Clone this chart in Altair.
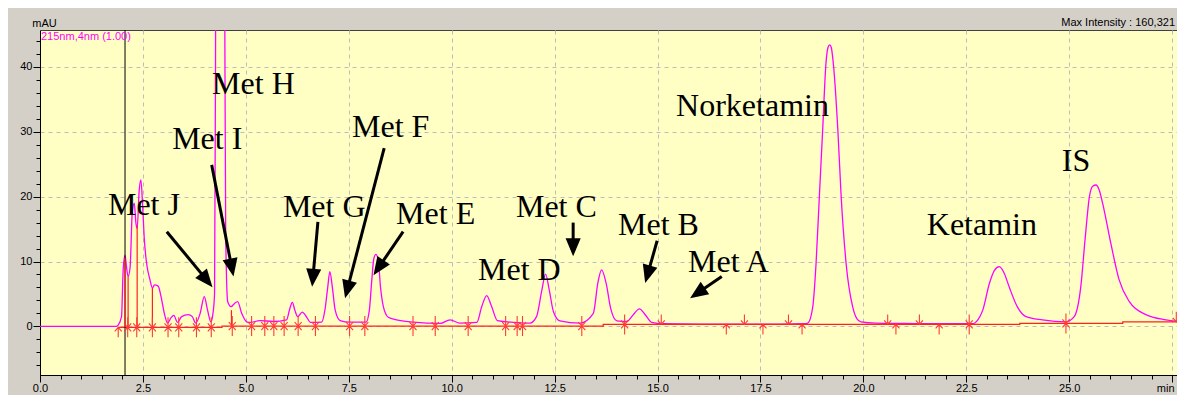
import math
import altair as alt
import numpy as np
import pandas as pd

# ---------------- data ----------------
# chromatogram signal, split by region (time in min, intensity in mAU)
t_a = [0.00, 1.85, 1.90, 1.98, 2.02, 2.065, 2.10, 2.14, 2.19, 2.24,
       2.29, 2.33, 2.36, 2.41, 2.45, 2.49, 2.53, 2.59, 2.67, 2.73,
       2.78, 2.87, 2.94, 3.02, 3.10, 3.18, 3.25, 3.34, 3.44, 3.60,
       3.70, 3.78, 3.89, 3.99, 4.07, 4.15, 4.19]
v_a = [0.0, 0.0, 0.2, 1.5, 8.7, 11.0, 9.2, 7.7, 9.2, 17.5,
       19.0, 15.9, 15.1, 21.0, 22.6, 19.0, 13.8, 9.7, 7.2, 5.9,
       6.4, 6.2, 4.6, 2.0, 0.5, 1.3, 1.7, 0.6, 1.5, 1.8,
       1.5, 0.5, 2.0, 4.6, 2.5, 0.7, 1.5]

t_b = [4.24, 4.265, 4.30, 4.37, 4.44, 4.49, 4.51, 4.53, 4.56, 4.64,
       4.72, 4.80, 4.90, 5.02, 5.10]
v_b = [5.0, 45.0, 140.0, 160.0, 140.0, 45.0, 15.0, 7.7, 3.8, 3.05,
       3.5, 3.8, 2.0, 0.7, 0.6]

t_c = [5.34, 5.67, 5.99, 6.07, 6.13, 6.19, 6.26, 6.37, 6.48, 6.57,
       6.84, 6.92, 6.99, 7.04, 7.10, 7.17, 7.29, 7.53, 7.92, 8.00,
       8.06, 8.11, 8.16, 8.22, 8.27, 8.34, 8.46, 8.66]
v_c = [0.9, 0.75, 1.0, 2.8, 3.7, 2.5, 1.5, 2.2, 1.4, 0.6,
       0.65, 2.5, 6.1, 8.45, 6.1, 2.5, 0.9, 0.65, 0.65, 2.5,
       7.2, 10.5, 11.1, 10.0, 6.1, 3.05, 1.4, 1.0]

t_d = [9.07, 9.72, 9.96, 10.20, 10.61, 10.73, 10.85, 10.97, 11.11, 11.66,
       11.90, 12.06, 12.19, 12.28, 12.37, 12.47, 12.63, 13.12, 13.44, 13.55,
       13.64, 13.75, 13.86, 14.01, 14.25, 14.41, 14.56, 14.70, 14.86, 15.14,
       16.0, 17.0, 18.0]
v_d = [0.65, 0.45, 1.0, 0.5, 0.6, 3.05, 4.75, 3.05, 0.9, 0.55,
       0.5, 1.5, 5.6, 8.05, 5.6, 2.3, 0.85, 0.5, 2.0, 6.7,
       8.7, 6.7, 2.8, 0.85, 0.75, 1.8, 2.7, 1.8, 0.6, 0.4,
       0.35, 0.35, 0.35]

t_e = [18.55, 18.65, 18.77, 18.85, 18.93, 19.01, 19.09, 19.14, 19.18, 19.22,
       19.27, 19.38, 19.46, 19.58, 19.74, 19.84, 19.94, 20.3, 21.0, 22.0]
v_e = [0.4, 0.5, 3.0, 9.7, 20.0, 30.2, 40.5, 43.0, 43.4, 43.0,
       40.5, 30.2, 20.0, 9.7, 3.0, 1.2, 0.7, 0.5, 0.45, 0.4]

t_f = [22.65, 22.78, 22.90, 23.06, 23.18, 23.30, 23.42, 23.54, 23.74, 23.95,
       24.35, 24.92, 25.12, 25.28, 25.39, 25.49, 25.57, 25.65, 25.73, 25.81,
       26.01, 26.21, 26.46, 26.86, 27.35, 27.74]
v_f = [0.4, 1.0, 2.5, 6.6, 8.6, 9.2, 8.2, 6.1, 3.0, 1.5,
       1.0, 0.7, 1.5, 6.1, 13.8, 20.0, 21.6, 21.8, 21.0, 19.0,
       12.8, 7.2, 3.8, 1.8, 1.0, 0.7]

# integration baseline (red)
base_t = [1.90, 4.42, 4.42, 13.68, 13.68, 23.8, 23.8, 26.3, 26.3, 27.74]
base_v = [-0.15, -0.15, 0.05, 0.05, 0.3, 0.3, 0.45, 0.45, 0.7, 0.7]

# red drop lines at peak boundaries
drop_t = [2.065, 2.14, 2.36, 2.73, 4.65]
drop_v = [10.5, 7.7, 15.5, 5.9, 2.5]

# peak start / end markers
mark_both = [2.13, 2.35, 2.73, 3.11, 3.37, 3.80, 4.16, 4.67, 5.14, 5.46,
             5.68, 5.93, 6.27, 6.69, 7.52, 7.89, 9.06, 9.60, 10.40, 11.31,
             11.59, 11.72, 13.16, 14.20, 22.57, 24.92]
mark_start = [1.90, 16.67, 17.56, 18.51, 20.79, 21.84]
mark_end = [15.09, 17.11, 18.18, 20.59, 21.36, 27.60]

cursor_t = [2.065]

# annotations
ann_text = ["Met H", "Met I", "Met J", "Met G", "Met F", "Met E", "Met D",
            "Met C", "Met B", "Met A", "Norketamin", "Ketamin", "IS"]
ann_t = [4.18, 3.21, 1.65, 5.90, 7.58, 8.65, 10.64, 11.56, 14.04, 15.74,
         15.45, 21.54, 24.82]
ann_v = [35.9, 27.4, 17.1, 16.9, 29.2, 15.8, 7.2, 16.9, 14.1, 8.4,
         32.5, 14.1, 24.0]

arr_from_t = [3.08, 4.17, 6.75, 8.36, 8.82, 12.95, 14.99, 16.56]
arr_from_v = [14.6, 24.9, 16.1, 27.5, 14.6, 16.0, 13.2, 7.7]
arr_to_t = [4.19, 4.70, 6.61, 7.41, 8.10, 12.95, 14.70, 15.79]
arr_to_v = [6.05, 7.7, 6.1, 4.35, 7.9, 10.8, 6.7, 4.35]

x_major_vals = [i * 2.5 for i in range(12)]
x_minor_vals = [i * 0.5 for i in range(56)]
y_major_vals = [0, 10, 20, 30, 40]
y_minor_vals = list(range(-6, 45, 2))

# ---------------- layout ----------------
PX_PER_MIN = 41.17
W, H = 1137, 345
X_DOMAIN = [0.0, W / PX_PER_MIN]
Y_DOMAIN = [-7.5, 45.7]
PXX = W / (X_DOMAIN[1] - X_DOMAIN[0])
PXY = H / (Y_DOMAIN[1] - Y_DOMAIN[0])

xs = alt.Scale(domain=X_DOMAIN, nice=False, zero=False)
ys = alt.Scale(domain=Y_DOMAIN, nice=False, zero=False)

FONT = "Liberation Sans"

sig_t = t_a + t_b + t_c + t_d + t_e + t_f
sig_v = v_a + v_b + v_c + v_d + v_e + v_f
sig = pd.DataFrame({"t": sig_t, "v": sig_v, "i": range(len(sig_t))})
base = pd.DataFrame({"t": base_t, "v": base_v, "i": range(len(base_t))})

x_major = alt.Axis(values=x_major_vals, orient="bottom", title="", grid=True,
                   gridColor="#bcbcbc", gridDash=[4, 4], gridWidth=1,
                   tickSize=7, tickColor="black", domainColor="black",
                   labelExpr="datum.value > 27 ? 'min' : format(datum.value, '.1f')",
                   labelOffset={"condition": {"test": "datum.value > 27", "value": -7},
                                "value": 0},
                   labelFont=FONT, labelFontSize=11, labelColor="black",
                   labelPadding=0, labelFlush=False, labelOverlap=False)
y_major = alt.Axis(values=y_major_vals, orient="left", title="mAU",
                   titleAngle=0, titleX=4, titleY=-3.5, titleAlign="center",
                   titleBaseline="alphabetic", titleFont=FONT, titleFontSize=11,
                   titleFontWeight="normal", titleColor="black",
                   grid=True, gridColor="#bcbcbc", gridDash=[4, 4], gridWidth=1,
                   tickSize=7, tickColor="black", domainColor="black",
                   labelFont=FONT, labelFontSize=11, labelColor="black",
                   labelPadding=1, labelFlush=False, labelOverlap=False)
x_minor = alt.Axis(values=x_minor_vals, orient="bottom", title="", labels=False,
                   grid=False, domain=False, tickSize=4, tickColor="black")
y_minor = alt.Axis(values=y_minor_vals, orient="left", title="", labels=False,
                   grid=False, domain=False, tickSize=4, tickColor="black")

sig_line = alt.Chart(sig).mark_line(color="#ff00ff", strokeWidth=1.3, clip=True,
                                    interpolate="monotone").encode(
    x=alt.X("t:Q", scale=xs, axis=x_major),
    y=alt.Y("v:Q", scale=ys, axis=y_major),
    order=alt.Order("i:Q"),
)

base_line = alt.Chart(base).mark_line(color="#ff2020", strokeWidth=1.3, clip=True).encode(
    x=alt.X("t:Q", scale=xs, axis=x_minor),
    y=alt.Y("v:Q", scale=ys, axis=y_minor),
    order=alt.Order("i:Q"),
)

cursor = alt.Chart(pd.DataFrame({"t": cursor_t})).mark_rule(color="black", strokeWidth=1).encode(
    x=alt.X("t:Q", scale=xs, axis=None),
)

drops_df = pd.DataFrame({"t": drop_t, "v": drop_v,
                         "b": np.interp(drop_t, base_t, base_v)})
drops = alt.Chart(drops_df).mark_rule(color="#ff2020", strokeWidth=1.2).encode(
    x=alt.X("t:Q", scale=xs, axis=None),
    y=alt.Y("b:Q", scale=ys, axis=None),
    y2="v:Q",
)

UP = "M0,0L0,1M-0.35,0.4L0,0L0.35,0.4"
DOWN = "M0,0L0,-1M-0.35,-0.4L0,0L0.35,-0.4"
BOTH = "M0,-1L0,1M-0.35,0.4L0,0L0.35,0.4M-0.35,-0.4L0,0L0.35,-0.4"


def marker_layer(ts, shape):
    df = pd.DataFrame({"t": ts, "v": np.interp(ts, base_t, base_v)})
    return alt.Chart(df).mark_point(shape=shape, size=400, filled=False,
                                    stroke="#ff3a3a", strokeWidth=1.1, opacity=1,
                                    clip=True).encode(
        x=alt.X("t:Q", scale=xs, axis=None),
        y=alt.Y("v:Q", scale=ys, axis=None),
    )


m_both = marker_layer(mark_both, BOTH)
m_start = marker_layer(mark_start, UP)
m_end = marker_layer(mark_end, DOWN)

# arrows
HEAD = 18.0
rows = []
for ft, fv, tt, tv in zip(arr_from_t, arr_from_v, arr_to_t, arr_to_v):
    dx = (tt - ft) * PXX
    dy = -(tv - fv) * PXY
    ln = math.hypot(dx, dy)
    ux, uy = dx / ln, dy / ln
    ang = math.degrees(math.atan2(dx, -dy)) % 360
    end_t = tt - 10.0 * ux / PXX
    end_v = tv + 10.0 * uy / PXY
    rows.append({"ft": ft, "fv": fv, "et": end_t, "ev": end_v,
                 "tt": tt, "tv": tv, "ang": ang})
arr = pd.DataFrame(rows)

shafts = alt.Chart(arr).mark_rule(color="black", strokeWidth=3).encode(
    x=alt.X("ft:Q", scale=xs, axis=None),
    y=alt.Y("fv:Q", scale=ys, axis=None),
    x2="et:Q",
    y2="ev:Q",
)
HEAD_PATH = "M0,0L-0.42,1L0.42,1Z"
heads = alt.Chart(arr).mark_point(shape=HEAD_PATH, size=(2 * HEAD) ** 2, filled=True,
                                  color="black", opacity=1, strokeWidth=0).encode(
    x=alt.X("tt:Q", scale=xs, axis=None),
    y=alt.Y("tv:Q", scale=ys, axis=None),
    angle=alt.Angle("ang:Q", scale=None),
)

ann = pd.DataFrame({"s": ann_text, "t": ann_t, "v": ann_v})
texts = alt.Chart(ann).mark_text(font="Liberation Serif", fontSize=32, align="left",
                                 baseline="alphabetic", color="black").encode(
    x=alt.X("t:Q", scale=xs, axis=None),
    y=alt.Y("v:Q", scale=ys, axis=None),
    text="s:N",
)

info = alt.Chart(pd.DataFrame({"s": ["215nm,4nm (1.00)"]})).mark_text(
    font=FONT, fontSize=11, align="left", baseline="top", color="#ff00ff").encode(
    x=alt.value(1), y=alt.value(1), text="s:N")

maxint = alt.Chart(pd.DataFrame({"s": ["Max Intensity : 160,321"]})).mark_text(
    font=FONT, fontSize=11, align="right", baseline="alphabetic", color="black").encode(
    x=alt.value(W - 2), y=alt.value(-4), text="s:N")

chart = alt.layer(
    sig_line, base_line, cursor, drops, m_both, m_start, m_end,
    shafts, heads, texts, info, maxint,
).resolve_axis(x="independent", y="independent").properties(
    width=W, height=H, background="#d4d0c8",
    padding={"left": 32, "top": 22, "right": 0, "bottom": 20},
    autosize=alt.AutoSizeParams(type="none"),
).configure_view(fill="#ffffc4", stroke="#404040", strokeWidth=1)

chart.save("out.html", embed_options={"renderer": "svg", "actions": False})
